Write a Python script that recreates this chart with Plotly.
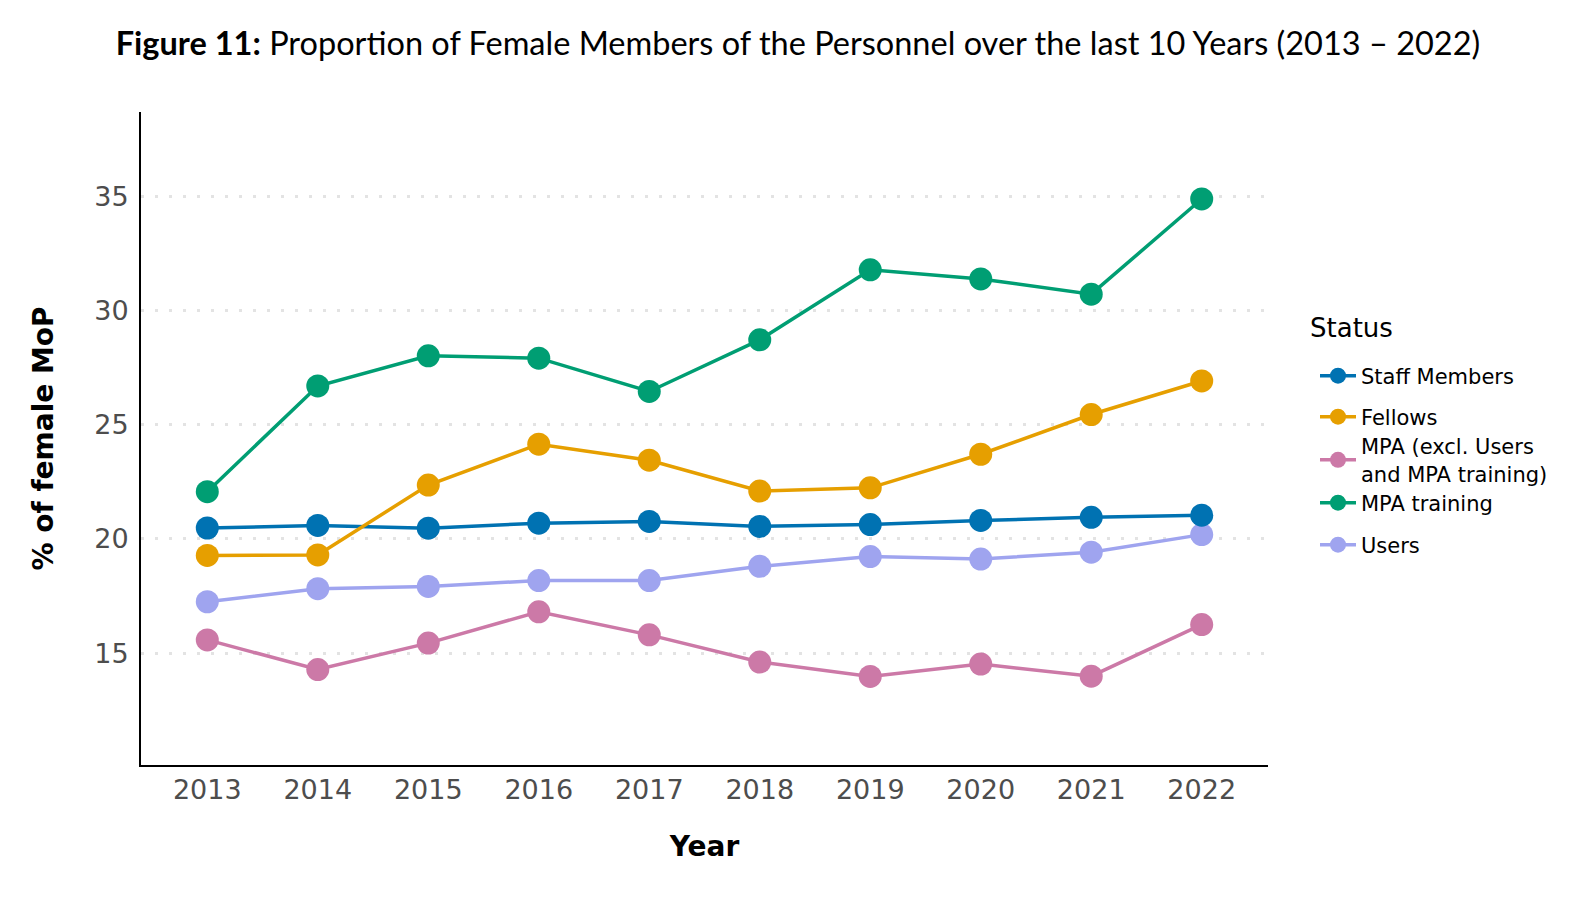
import plotly.graph_objects as go

years = [2013, 2014, 2015, 2016, 2017, 2018, 2019, 2020, 2021, 2022]
staff_members = [20.48, 20.59, 20.47, 20.69, 20.77, 20.55, 20.63, 20.81, 20.95, 21.04]
fellows = [19.28, 19.30, 22.36, 24.15, 23.45, 22.10, 22.24, 23.71, 25.45, 26.92]
mpa_excl = [15.58, 14.28, 15.44, 16.81, 15.80, 14.61, 13.98, 14.52, 13.99, 16.25]
mpa_training = [22.07, 26.70, 28.02, 27.92, 26.46, 28.72, 31.79, 31.39, 30.72, 34.89]
users = [17.25, 17.82, 17.92, 18.18, 18.18, 18.80, 19.23, 19.12, 19.42, 20.19]

series_names = ["Staff Members", "Fellows", "MPA (excl. Users<br>and MPA training)", "MPA training", "Users"]
series_values = [staff_members, fellows, mpa_excl, mpa_training, users]
series_colors = ["#0072B2", "#E69F00", "#CC79A7", "#009E73", "#9FA4EF"]
y_ticks = [15, 20, 25, 30, 35]

W, H = 1596, 906
ml, mr, mt, mb = 141, 328, 112, 141
plot_h = H - mt - mb

# legend item vertical centres in pixels (from top of page)
legend_centres = [376, 417, 460, 503, 545]

fig = go.Figure()
legend_ids = ["legend", "legend2", "legend3", "legend4", "legend5"]
draw_order = [2, 4, 0, 1, 3]
for i in draw_order:
    fig.add_trace(go.Scatter(
        x=years, y=series_values[i], name=series_names[i],
        mode="lines+markers",
        line=dict(color=series_colors[i], width=3.5),
        marker=dict(color=series_colors[i], size=23, line=dict(width=0)),
        legend=legend_ids[i],
    ))

legend_common = dict(
    font=dict(family="DejaVu Sans", size=21, color="black"),
    bgcolor="rgba(0,0,0,0)", borderwidth=0,
    xanchor="left", yanchor="middle", itemwidth=36,
)
layout_legends = {}
for lid, yc in zip(legend_ids, legend_centres):
    layout_legends[lid] = dict(legend_common, x=(1315 - ml) / (W - ml - mr), y=(H - mb - yc) / plot_h)

fig.update_layout(
    width=W, height=H,
    margin=dict(l=ml, r=mr, t=mt, b=mb),
    paper_bgcolor="white", plot_bgcolor="white",
    title=dict(
        text="<b>Figure 11:</b> Proportion of Female Members of the Personnel over the last 10 Years (2013 – 2022)",
        font=dict(family="Lato", size=32.5, color="black"),
        x=0.5, xref="container", xanchor="center",
        y=1 - 44 / H, yref="container", yanchor="middle",
    ),
    showlegend=True,
    **layout_legends,
)

fig.add_annotation(
    text="Status", xref="paper", yref="paper",
    x=(1308 - ml) / (W - ml - mr), y=(H - mb - 328) / plot_h,
    xanchor="left", yanchor="middle", showarrow=False,
    font=dict(family="DejaVu Sans", size=26, color="black"),
)

fig.update_xaxes(
    range=[2012.4, 2022.6], tickvals=years, ticktext=[str(y) for y in years],
    showgrid=False, zeroline=False, showline=True, linecolor="black", linewidth=2,
    ticks="", ticklabelstandoff=0,
    tickfont=dict(family="DejaVu Sans", size=27, color="#4D4D4D"),
    title=dict(text="<b>Year</b>", font=dict(family="DejaVu Sans", size=28, color="black"), standoff=32),
)
fig.update_yaxes(
    range=[10.1, 38.7], tickvals=y_ticks, ticktext=[str(v) for v in y_ticks],
    showgrid=True, gridcolor="#E3E3E3", gridwidth=2.5, griddash="3px,11px",
    zeroline=False, showline=True, linecolor="black", linewidth=2,
    ticks="", ticklabelstandoff=5,
    tickfont=dict(family="DejaVu Sans", size=27, color="#4D4D4D"),
    title=dict(text="<b>% of female MoP</b>", font=dict(family="DejaVu Sans", size=28, color="black"), standoff=32),
)

fig.write_html("out.html")
